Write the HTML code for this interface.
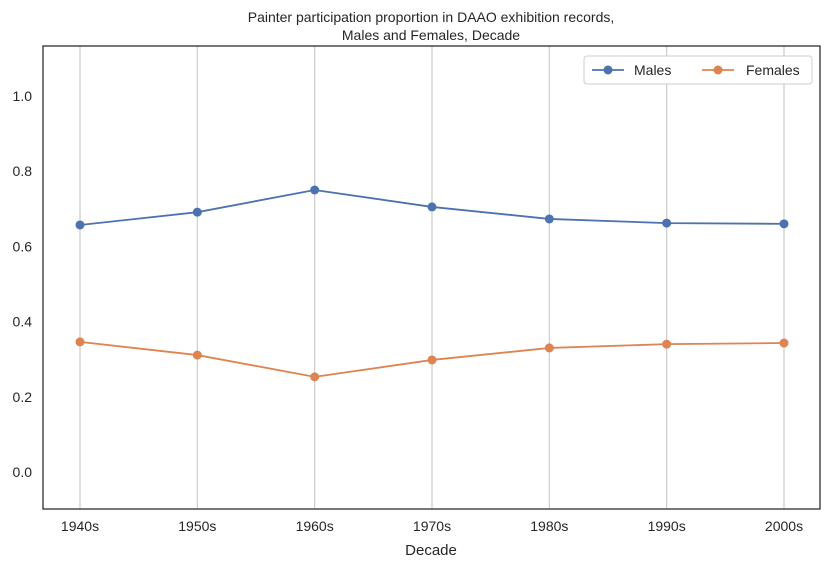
<!DOCTYPE html>
<html><head><meta charset="utf-8"><style>
body{margin:0;background:#fff;font-family:"Liberation Sans",sans-serif;}
svg text{font-family:"Liberation Sans",sans-serif;fill:#262626;}
</style></head><body>
<svg id="chart" width="829" height="567" xmlns="http://www.w3.org/2000/svg">
<text x="431" y="22" font-size="14" text-anchor="middle">Painter participation proportion in DAAO exhibition records,</text>
<text x="431" y="40" font-size="14" text-anchor="middle">Males and Females, Decade</text>
<g id="grid"></g><g id="yticks"></g><g id="xticks"></g><g id="series"></g>
<rect x="43" y="46" width="777" height="463" fill="none" stroke="#262626" stroke-width="1.25"/>
<text x="431" y="555" font-size="15" text-anchor="middle">Decade</text>
<g>
<rect x="584" y="56" width="228" height="28" rx="3" fill="#fff" stroke="#ccc"/>
<line x1="592" y1="70" x2="624" y2="70" stroke="#4c72b0" stroke-width="1.8"/>
<circle cx="608" cy="70" r="4.5" fill="#4c72b0"/>
<text x="634" y="75" font-size="14">Males</text>
<line x1="702" y1="70" x2="734" y2="70" stroke="#dd8452" stroke-width="1.8"/>
<circle cx="718" cy="70" r="4.5" fill="#dd8452"/>
<text x="746" y="75" font-size="14">Females</text>
</g>
</svg>
<script>
const categories=["1940s","1950s","1960s","1970s","1980s","1990s","2000s"];
const males=[0.657,0.691,0.750,0.705,0.673,0.662,0.660];
const females=[0.346,0.311,0.253,0.298,0.330,0.340,0.343];
const yTicks=[0.0,0.2,0.4,0.6,0.8,1.0];
const yTickLabels=["0.0","0.2","0.4","0.6","0.8","1.0"];
const NS="http://www.w3.org/2000/svg";
const X=i=>80+i*(784-80)/(categories.length-1);
const Y=v=>472-v*376;
function mk(t,a,p){const e=document.createElementNS(NS,t);for(const k in a)e.setAttribute(k,a[k]);p.appendChild(e);return e;}
const grid=document.getElementById('grid'),xt=document.getElementById('xticks'),yt=document.getElementById('yticks'),sr=document.getElementById('series');
categories.forEach((c,i)=>{
 const l=mk('line',{x1:X(i),x2:X(i),y1:46,y2:509,stroke:'#cccccc','stroke-width':1.2},grid);
 
 
 const t=mk('text',{x:X(i),y:531,'font-size':14,'text-anchor':'middle'},xt);t.textContent=c;
 
 
});
yTicks.forEach((v,i)=>{
 const t=mk('text',{x:32,y:Y(v)+5,'font-size':14,'text-anchor':'end'},yt);t.textContent=yTickLabels[i];
 
 
});
[[males,'#4c72b0','males'],[females,'#dd8452','females']].forEach(([d,c,n])=>{
 const p=mk('polyline',{points:d.map((v,i)=>X(i)+','+Y(v)).join(' '),fill:'none',stroke:c,'stroke-width':1.8},sr);
 
 
 d.forEach((v,i)=>{const m=mk('circle',{cx:X(i),cy:Y(v),r:4.5,fill:c},sr);
  
  });
});
</script>
</body></html>
